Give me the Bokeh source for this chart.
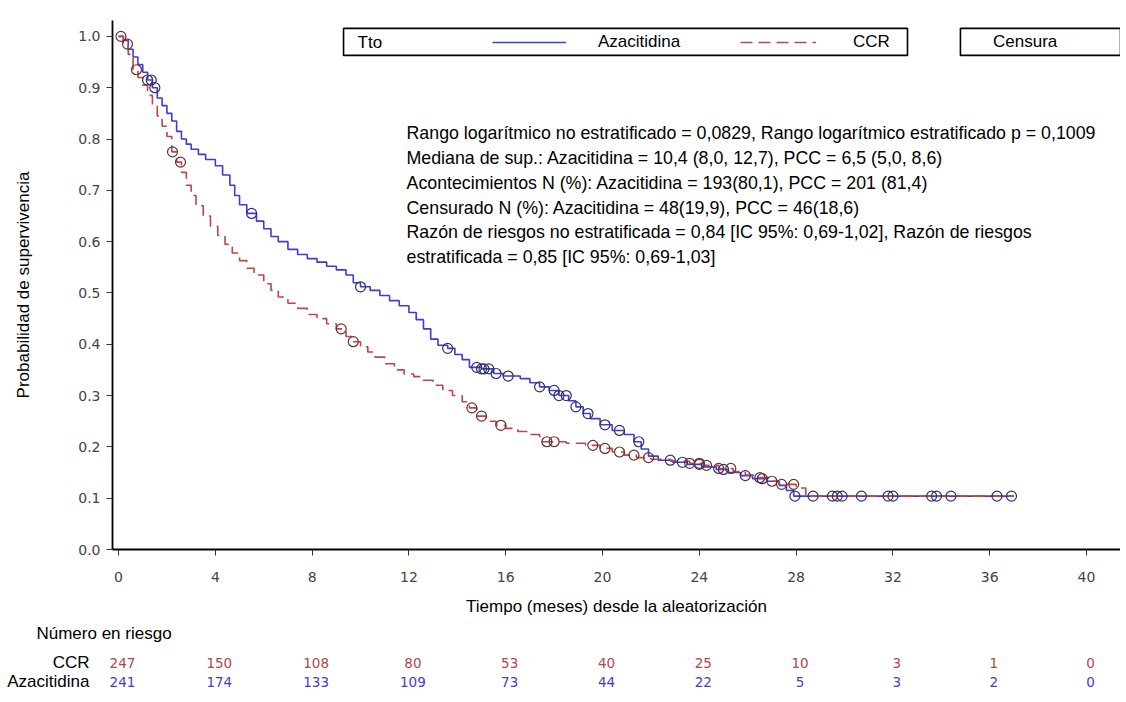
import numpy as np
from bokeh.plotting import figure
from bokeh.layouts import column
from bokeh.models import (Range1d, FixedTicker, PrintfTickFormatter, Label,
                          BoxAnnotation, Legend, LegendItem, ColumnDataSource)
from bokeh.core.properties import value
from bokeh.embed import file_html
from bokeh.resources import INLINE

# ---------------- data ----------------
aza_t = [0, 0.2, 0.4, 0.6, 0.8, 1.0, 1.2, 1.4, 1.6, 1.8, 2.0, 2.2, 2.4, 2.6, 2.8,
         3.0, 3.3, 3.6, 4.0, 4.3, 4.6, 4.8, 5.0, 5.3, 5.7, 6.0, 6.3, 6.6, 7.0,
         7.4, 7.8, 8.2, 8.6, 9.0, 9.4, 9.7, 10.0, 10.4, 10.8, 11.2, 11.6, 12.0,
         12.3, 12.6, 12.9, 13.2, 13.6, 13.9, 14.2, 14.5, 15.0, 15.5, 15.9, 16.6,
         17.0, 17.4, 17.8, 18.2, 18.6, 18.9, 19.2, 19.5, 19.9, 20.4, 20.9, 21.3,
         21.6, 21.9, 22.3, 22.9, 23.5, 24.1, 24.7, 25.2, 25.7, 26.2, 26.8, 27.3,
         27.6, 27.9, 37.0]
aza_s = [1.0, 0.992, 0.975, 0.96, 0.945, 0.93, 0.915, 0.90, 0.88, 0.865, 0.85,
         0.835, 0.815, 0.80, 0.79, 0.78, 0.77, 0.76, 0.748, 0.73, 0.71, 0.69,
         0.672, 0.655, 0.64, 0.625, 0.61, 0.60, 0.585, 0.575, 0.567, 0.56, 0.552,
         0.545, 0.535, 0.52, 0.512, 0.505, 0.495, 0.485, 0.475, 0.462, 0.448,
         0.43, 0.41, 0.398, 0.392, 0.38, 0.37, 0.355, 0.352, 0.343, 0.338, 0.333,
         0.325, 0.317, 0.31, 0.30, 0.29, 0.278, 0.265, 0.255, 0.243, 0.232,
         0.224, 0.21, 0.196, 0.182, 0.174, 0.17, 0.166, 0.161, 0.156, 0.15,
         0.144, 0.138, 0.133, 0.125, 0.115, 0.104, 0.104]

ccr_t = [0, 0.2, 0.4, 0.6, 0.8, 1.0, 1.2, 1.4, 1.6, 1.8, 2.0, 2.2, 2.4, 2.6, 2.8,
         3.0, 3.2, 3.5, 3.8, 4.1, 4.4, 4.7, 5.0, 5.3, 5.6, 6.0, 6.3, 6.6, 7.0,
         7.4, 7.8, 8.2, 8.6, 9.0, 9.4, 9.7, 10.0, 10.3, 10.6, 11.0, 11.4, 11.8,
         12.2, 12.6, 13.0, 13.4, 13.8, 14.2, 14.5, 14.8, 15.2, 15.6, 16.0, 16.5,
         17.0, 17.4, 18.5, 19.3, 19.9, 20.4, 20.9, 21.4, 22.0, 22.8, 23.6, 24.2,
         24.8, 25.4, 25.9, 26.4, 26.9, 27.3, 28.0, 28.4, 37.0]
ccr_s = [1.0, 0.985, 0.965, 0.935, 0.92, 0.905, 0.885, 0.865, 0.845, 0.825,
         0.805, 0.775, 0.755, 0.735, 0.71, 0.69, 0.67, 0.65, 0.63, 0.612, 0.595,
         0.578, 0.563, 0.548, 0.535, 0.518, 0.505, 0.492, 0.48, 0.47, 0.458,
         0.45, 0.44, 0.43, 0.415, 0.405, 0.395, 0.385, 0.375, 0.362, 0.35, 0.342,
         0.337, 0.33, 0.32, 0.31, 0.30, 0.288, 0.276, 0.26, 0.25, 0.242, 0.236,
         0.23, 0.224, 0.21, 0.207, 0.203, 0.197, 0.19, 0.184, 0.179, 0.176,
         0.172, 0.168, 0.164, 0.158, 0.152, 0.145, 0.14, 0.133, 0.127, 0.12,
         0.104, 0.104]

aza_cens = [1.2, 1.35, 1.5, 5.5, 10.0, 13.6, 14.8, 15.0, 15.1, 15.3, 15.6, 16.1,
            17.4, 18.0, 18.2, 18.5, 18.9, 19.4, 20.1, 20.7, 21.5, 22.8, 23.3,
            24.0, 25.0, 25.9, 26.6, 27.95, 28.7, 29.5, 29.7, 29.9, 30.7, 31.8,
            32.0, 33.6, 33.8, 34.4, 36.3, 36.9]
ccr_cens = [0.1, 0.37, 0.74, 2.23, 2.56, 9.2, 9.7, 14.6, 15.0, 15.8, 17.7, 18.0,
            19.6, 20.1, 20.7, 21.3, 21.9, 23.6, 24.0, 24.3, 24.8, 25.3, 26.5,
            27.0, 27.4, 27.9]

risk_times = [0, 4, 8, 12, 16, 20, 24, 28, 32, 36, 40]
risk_ccr = [247, 150, 108, 80, 53, 40, 25, 10, 3, 1, 0]
risk_aza = [241, 174, 133, 109, 73, 44, 22, 5, 3, 2, 0]
row_labels = ["CCR", "Azacitidina"]

y_ticks = [0.0, 0.1, 0.2, 0.3, 0.4, 0.5, 0.6, 0.7, 0.8, 0.9, 1.0]

stats_lines = [
    "Rango logarítmico no estratificado = 0,0829, Rango logarítmico estratificado p = 0,1009",
    "Mediana de sup.: Azacitidina = 10,4 (8,0, 12,7), PCC = 6,5 (5,0, 8,6)",
    "Acontecimientos N (%): Azacitidina = 193(80,1), PCC = 201 (81,4)",
    "Censurado N (%): Azacitidina = 48(19,9), PCC = 46(18,6)",
    "Razón de riesgos no estratificada = 0,84 [IC 95%: 0,69-1,02], Razón de riesgos",
    "estratificada = 0,85 [IC 95%: 0,69-1,03]",
]

# ---------------- styling ----------------
BLUE = "#3d3dd8"
RED = "#c24444"
BLUE_C = "#30306e"
RED_C = "#663232"
FONT = "Liberation Sans"
NUMFONT = "DejaVu Sans"
W = 1120


def step_at(ts, ss, xs):
    ts = np.asarray(ts)
    ss = np.asarray(ss)
    idx = np.searchsorted(ts, np.asarray(xs), side="right") - 1
    return ss[np.clip(idx, 0, len(ss) - 1)]


p = figure(width=W, height=620, output_backend="svg", toolbar_location=None,
           x_range=Range1d(-0.25, 41.405), y_range=Range1d(0.0, 1.031),
           min_border_left=112, min_border_right=0, min_border_top=20,
           min_border_bottom=71)
p.frame_align = False
p.outline_line_color = None
p.xgrid.visible = False
p.ygrid.visible = False
p.background_fill_color = "white"
p.border_fill_color = "white"

for ax in (p.xaxis, p.yaxis):
    ax.axis_line_width = 1.8
    ax.axis_line_color = "black"
    ax.major_tick_line_color = "#333333"
    ax.major_tick_out = 6
    ax.major_tick_in = 0
    ax.minor_tick_line_color = None
    ax.major_label_text_font = NUMFONT
    ax.major_label_text_font_size = "14px"
    ax.major_label_text_color = "#444444"
    ax.axis_label_text_font = FONT
    ax.axis_label_text_font_size = "17px"
    ax.axis_label_text_font_style = "normal"
    ax.axis_label_text_color = "black"

p.xaxis.ticker = FixedTicker(ticks=risk_times)
p.yaxis.ticker = FixedTicker(ticks=y_ticks)
p.yaxis.formatter = PrintfTickFormatter(format="%.1f")
p.xaxis.axis_label = "Tiempo (meses) desde la aleatorización"
p.yaxis.axis_label = "Probabilidad de supervivencia"
p.xaxis.major_label_standoff = 16
p.xaxis.axis_label_standoff = 12
p.yaxis.major_label_standoff = 6
p.yaxis.axis_label_standoff = 42

# curves
aza_line = p.step(aza_t, aza_s, mode="after", line_color=BLUE, line_width=1.6)
ccr_line = p.step(ccr_t, ccr_s, mode="after", line_color=RED, line_width=1.6,
                  line_dash="12 6")

# censor marks
p.scatter(aza_cens, step_at(aza_t, aza_s, aza_cens), marker="circle", size=10,
          fill_color=None, line_color=BLUE_C, line_width=1.2)
p.scatter(ccr_cens, step_at(ccr_t, ccr_s, ccr_cens), marker="circle", size=10,
          fill_color=None, line_color=RED_C, line_width=1.2)
cens_leg = p.scatter([], [], marker="circle", size=9, fill_color=None,
                     line_color="#888888", line_width=1.5)

# legend boxes
p.add_layout(BoxAnnotation(left=9.298, right=32.603, bottom=0.963, top=1.0156,
                           fill_alpha=0, line_color="black", line_alpha=1,
                           line_width=1.6))
p.add_layout(BoxAnnotation(left=34.79, bottom=0.963, top=1.0156,
                           fill_alpha=0, line_color="black", line_alpha=1,
                           line_width=1.6))
p.add_layout(Label(x=9.876, y=0.989, text="Tto", text_font=FONT,
                   text_font_size="17px", text_baseline="middle",
                   text_color="black"))


def make_legend(label, rend, loc, gw, standoff):
    return Legend(items=[LegendItem(label=label, renderers=[rend])], location=loc,
                  orientation="horizontal", glyph_width=gw, glyph_height=20,
                  label_height=20, label_standoff=standoff, padding=0, margin=0,
                  border_line_alpha=0, background_fill_alpha=0,
                  label_text_font=FONT, label_text_font_size="17px",
                  label_text_color="black")


p.add_layout(make_legend("Azacitidina", aza_line, (380, 497), 74, 32))
p.add_layout(make_legend("CCR", ccr_line, (628, 497), 76, 37))
p.add_layout(make_legend("Censura", cens_leg, (859, 497), 14, 8))

# statistics text block
for i, line in enumerate(stats_lines):
    p.add_layout(Label(x=11.9, y=0.811 - i * 0.0482, text=line, text_font=FONT,
                       text_font_size="17.8px", text_baseline="middle",
                       text_color="black"))

# ---------------- number at risk table (own figure, same time scale) --------
r = figure(width=W, height=78, output_backend="svg", toolbar_location=None,
           x_range=Range1d(-118 / 24.2, 41.405), y_range=Range1d(78, 0),
           x_axis_type=None, y_axis_type=None, min_border=0,
           min_border_left=0, min_border_right=0, min_border_top=0,
           min_border_bottom=0)
r.frame_align = False
r.outline_line_color = None
r.xgrid.visible = False
r.ygrid.visible = False

r.text(x=[-3.39], y=[13], text=["Número en riesgo"], text_font=value(FONT),
       text_font_size="17px", text_baseline="middle", text_color="black")
r.text(x=[-1.2, -1.2], y=[42, 61], text=row_labels, text_font=value(FONT),
       text_font_size="17px", text_baseline="middle", text_align="right",
       text_color="black")
ccr_src = ColumnDataSource(dict(t=risk_times, n=[str(v) for v in risk_ccr],
                                y=[42] * len(risk_times)))
aza_src = ColumnDataSource(dict(t=risk_times, n=[str(v) for v in risk_aza],
                                y=[61] * len(risk_times)))
r.text(x="t", y="y", text="n", source=ccr_src, text_font=value(NUMFONT),
       text_font_size="13.5px", text_baseline="middle", text_align="center",
       x_offset=4, text_color="#b04848")
r.text(x="t", y="y", text="n", source=aza_src, text_font=value(NUMFONT),
       text_font_size="13.5px", text_baseline="middle", text_align="center",
       x_offset=4, text_color="#4040d0")

layout = column(p, r, spacing=0)
open("out.html", "w").write(file_html(layout, INLINE))
